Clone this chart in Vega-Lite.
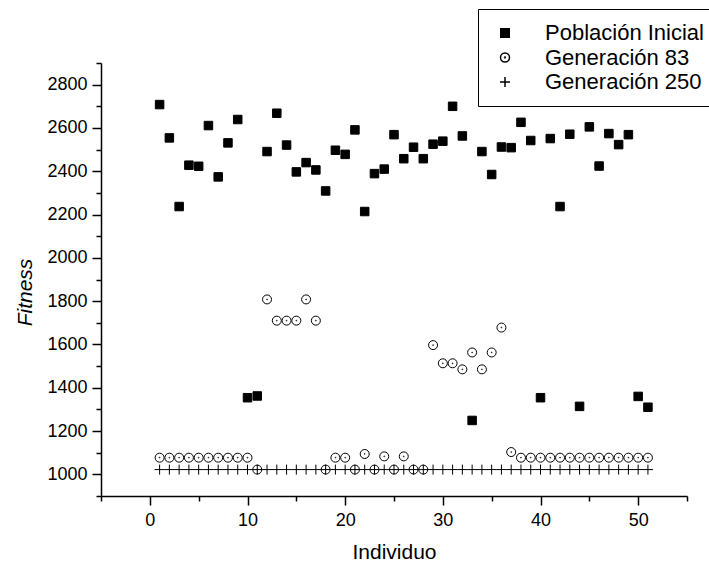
{
  "$schema": "https://vega.github.io/schema/vega-lite/v6.json",
  "width": 586,
  "height": 433,
  "autosize": {"type": "none"},
  "padding": {"left": 101, "top": 63, "right": 22, "bottom": 66},
  "background": "white",
  "config": {
    "view": {"stroke": null},
    "font": "Liberation Sans",
    "axis": {
      "grid": false,
      "domainColor": "black",
      "domainWidth": 1.5,
      "tickColor": "black",
      "tickWidth": 1.5,
      "labelColor": "black",
      "titleColor": "black",
      "labelFont": "Liberation Sans",
      "titleFont": "Liberation Sans",
      "labelFontSize": 18,
      "titleFontSize": 21,
      "titleFontWeight": "normal"
    }
  },
  "data": {
    "values": [
      {"x":1,"s":"Generación 83","f":1077},{"x":2,"s":"Generación 83","f":1077},{"x":3,"s":"Generación 83","f":1077},{"x":4,"s":"Generación 83","f":1077},{"x":5,"s":"Generación 83","f":1077},{"x":6,"s":"Generación 83","f":1077},{"x":7,"s":"Generación 83","f":1077},{"x":8,"s":"Generación 83","f":1077},{"x":9,"s":"Generación 83","f":1077},{"x":10,"s":"Generación 83","f":1077},
      {"x":11,"s":"Generación 83","f":1022},{"x":12,"s":"Generación 83","f":1808},{"x":13,"s":"Generación 83","f":1710},{"x":14,"s":"Generación 83","f":1710},{"x":15,"s":"Generación 83","f":1710},{"x":16,"s":"Generación 83","f":1808},{"x":17,"s":"Generación 83","f":1710},{"x":18,"s":"Generación 83","f":1022},{"x":19,"s":"Generación 83","f":1077},{"x":20,"s":"Generación 83","f":1077},
      {"x":21,"s":"Generación 83","f":1022},{"x":22,"s":"Generación 83","f":1094},{"x":23,"s":"Generación 83","f":1022},{"x":24,"s":"Generación 83","f":1083},{"x":25,"s":"Generación 83","f":1022},{"x":26,"s":"Generación 83","f":1083},{"x":27,"s":"Generación 83","f":1022},{"x":28,"s":"Generación 83","f":1022},{"x":29,"s":"Generación 83","f":1597},{"x":30,"s":"Generación 83","f":1513},
      {"x":31,"s":"Generación 83","f":1513},{"x":32,"s":"Generación 83","f":1485},{"x":33,"s":"Generación 83","f":1563},{"x":34,"s":"Generación 83","f":1485},{"x":35,"s":"Generación 83","f":1563},{"x":36,"s":"Generación 83","f":1678},{"x":37,"s":"Generación 83","f":1103},{"x":38,"s":"Generación 83","f":1077},{"x":39,"s":"Generación 83","f":1077},{"x":40,"s":"Generación 83","f":1077},
      {"x":41,"s":"Generación 83","f":1077},{"x":42,"s":"Generación 83","f":1077},{"x":43,"s":"Generación 83","f":1077},{"x":44,"s":"Generación 83","f":1077},{"x":45,"s":"Generación 83","f":1077},{"x":46,"s":"Generación 83","f":1077},{"x":47,"s":"Generación 83","f":1077},{"x":48,"s":"Generación 83","f":1077},{"x":49,"s":"Generación 83","f":1077},{"x":50,"s":"Generación 83","f":1077},{"x":51,"s":"Generación 83","f":1077},
      {"x":1,"s":"Generación 250","f":1022},{"x":2,"s":"Generación 250","f":1022},{"x":3,"s":"Generación 250","f":1022},{"x":4,"s":"Generación 250","f":1022},{"x":5,"s":"Generación 250","f":1022},{"x":6,"s":"Generación 250","f":1022},{"x":7,"s":"Generación 250","f":1022},{"x":8,"s":"Generación 250","f":1022},{"x":9,"s":"Generación 250","f":1022},{"x":10,"s":"Generación 250","f":1022},
      {"x":11,"s":"Generación 250","f":1022},{"x":12,"s":"Generación 250","f":1022},{"x":13,"s":"Generación 250","f":1022},{"x":14,"s":"Generación 250","f":1022},{"x":15,"s":"Generación 250","f":1022},{"x":16,"s":"Generación 250","f":1022},{"x":17,"s":"Generación 250","f":1022},{"x":18,"s":"Generación 250","f":1022},{"x":19,"s":"Generación 250","f":1022},{"x":20,"s":"Generación 250","f":1022},
      {"x":21,"s":"Generación 250","f":1022},{"x":22,"s":"Generación 250","f":1022},{"x":23,"s":"Generación 250","f":1022},{"x":24,"s":"Generación 250","f":1022},{"x":25,"s":"Generación 250","f":1022},{"x":26,"s":"Generación 250","f":1022},{"x":27,"s":"Generación 250","f":1022},{"x":28,"s":"Generación 250","f":1022},{"x":29,"s":"Generación 250","f":1022},{"x":30,"s":"Generación 250","f":1022},
      {"x":31,"s":"Generación 250","f":1022},{"x":32,"s":"Generación 250","f":1022},{"x":33,"s":"Generación 250","f":1022},{"x":34,"s":"Generación 250","f":1022},{"x":35,"s":"Generación 250","f":1022},{"x":36,"s":"Generación 250","f":1022},{"x":37,"s":"Generación 250","f":1022},{"x":38,"s":"Generación 250","f":1022},{"x":39,"s":"Generación 250","f":1022},{"x":40,"s":"Generación 250","f":1022},
      {"x":41,"s":"Generación 250","f":1022},{"x":42,"s":"Generación 250","f":1022},{"x":43,"s":"Generación 250","f":1022},{"x":44,"s":"Generación 250","f":1022},{"x":45,"s":"Generación 250","f":1022},{"x":46,"s":"Generación 250","f":1022},{"x":47,"s":"Generación 250","f":1022},{"x":48,"s":"Generación 250","f":1022},{"x":49,"s":"Generación 250","f":1022},{"x":50,"s":"Generación 250","f":1022},{"x":51,"s":"Generación 250","f":1022},
      {"x":1,"s":"Población Inicial","f":2708},{"x":2,"s":"Población Inicial","f":2554},{"x":3,"s":"Población Inicial","f":2237},{"x":4,"s":"Población Inicial","f":2428},{"x":5,"s":"Población Inicial","f":2423},{"x":6,"s":"Población Inicial","f":2611},{"x":7,"s":"Población Inicial","f":2374},{"x":8,"s":"Población Inicial","f":2531},{"x":9,"s":"Población Inicial","f":2639},{"x":10,"s":"Población Inicial","f":1354},
      {"x":11,"s":"Población Inicial","f":1362},{"x":12,"s":"Población Inicial","f":2491},{"x":13,"s":"Población Inicial","f":2668},{"x":14,"s":"Población Inicial","f":2521},{"x":15,"s":"Población Inicial","f":2397},{"x":16,"s":"Población Inicial","f":2440},{"x":17,"s":"Población Inicial","f":2406},{"x":18,"s":"Población Inicial","f":2309},{"x":19,"s":"Población Inicial","f":2497},{"x":20,"s":"Población Inicial","f":2478},
      {"x":21,"s":"Población Inicial","f":2591},{"x":22,"s":"Población Inicial","f":2214},{"x":23,"s":"Población Inicial","f":2389},{"x":24,"s":"Población Inicial","f":2410},{"x":25,"s":"Población Inicial","f":2569},{"x":26,"s":"Población Inicial","f":2458},{"x":27,"s":"Población Inicial","f":2511},{"x":28,"s":"Población Inicial","f":2458},{"x":29,"s":"Población Inicial","f":2525},{"x":30,"s":"Población Inicial","f":2539},
      {"x":31,"s":"Población Inicial","f":2700},{"x":32,"s":"Población Inicial","f":2563},{"x":33,"s":"Población Inicial","f":1249},{"x":34,"s":"Población Inicial","f":2491},{"x":35,"s":"Población Inicial","f":2385},{"x":36,"s":"Población Inicial","f":2512},{"x":37,"s":"Población Inicial","f":2509},{"x":38,"s":"Población Inicial","f":2626},{"x":39,"s":"Población Inicial","f":2542},{"x":40,"s":"Población Inicial","f":1354},
      {"x":41,"s":"Población Inicial","f":2551},{"x":42,"s":"Población Inicial","f":2237},{"x":43,"s":"Población Inicial","f":2571},{"x":44,"s":"Población Inicial","f":1314},{"x":45,"s":"Población Inicial","f":2605},{"x":46,"s":"Población Inicial","f":2424},{"x":47,"s":"Población Inicial","f":2574},{"x":48,"s":"Población Inicial","f":2523},{"x":49,"s":"Población Inicial","f":2569},{"x":50,"s":"Población Inicial","f":1360},{"x":51,"s":"Población Inicial","f":1310}
    ]
  },
  "mark": {"type": "point", "filled": true, "size": 100, "stroke": "black", "strokeWidth": 1, "opacity": 1},
  "encoding": {
    "x": {
      "field": "x", "type": "quantitative",
      "scale": {"domain": [-5, 55], "nice": false, "zero": false},
      "axis": {
        "title": "Individuo",
        "format": "d",
        "values": [-5, 0, 5, 10, 15, 20, 25, 30, 35, 40, 45, 50, 55],
        "labelExpr": "datum.value % 10 === 0 ? datum.label : ''",
        "tickSize": {"condition": {"test": "datum.value % 10 === 0", "value": 9}, "value": 5},
        "labelPadding": 6,
        "titleY": 56,
        "titleBaseline": "middle"
      }
    },
    "y": {
      "field": "f", "type": "quantitative",
      "scale": {"domain": [900, 2900], "nice": false, "zero": false},
      "axis": {
        "title": "Fitness",
        "format": "d",
        "titleFontStyle": "italic",
        "values": [900,1000,1100,1200,1300,1400,1500,1600,1700,1800,1900,2000,2100,2200,2300,2400,2500,2600,2700,2800,2900],
        "labelExpr": "datum.value % 200 === 0 ? datum.label : ''",
        "tickSize": {"condition": {"test": "datum.value % 200 === 0", "value": 9}, "value": 5},
        "labelPadding": 5,
        "titleX": -76,
        "titleY": 229,
        "titleAlign": "center",
        "titleBaseline": "middle",
        "titleAngle": -90
      }
    },
    "shape": {
      "field": "s", "type": "nominal",
      "scale": {
        "domain": ["Población Inicial", "Generación 83", "Generación 250"],
        "range": [
          "M-0.85,-0.85H0.85V0.85H-0.85Z",
          "M-0.9,0A0.9,0.9,0,1,0,0.9,0A0.9,0.9,0,1,0,-0.9,0Z M-0.08,0A0.08,0.08,0,1,0,0.08,0A0.08,0.08,0,1,0,-0.08,0Z",
          "M-1,0H1M0,-1V1"
        ]
      },
      "legend": {
        "title": null,
        "orient": "none",
        "legendX": 377,
        "legendY": -54,
        "strokeColor": "black",
        "fillColor": "white",
        "padding": 13,
        "symbolOffset": 3,
        "symbolSize": 100,
        "labelFont": "Liberation Sans",
        "labelFontSize": 22,
        "labelColor": "black",
        "labelOffset": 29,
        "labelLimit": 400,
        "labelExpr": "datum.label + '\u00a0\u00a0'",
        "rowPadding": 2.5,
        "encode": {
          "symbols": {
            "update": {
              "stroke": {"value": "black"},
              "strokeWidth": {"value": 1},
              "opacity": {"value": 1}
            }
          }
        }
      }
    },
    "fill": {
      "field": "s", "type": "nominal",
      "scale": {
        "domain": ["Población Inicial", "Generación 83", "Generación 250"],
        "range": ["black", "transparent", "transparent"]
      },
      "legend": {
        "title": null,
        "orient": "none",
        "legendX": 377,
        "legendY": -54
      }
    }
  }
}
